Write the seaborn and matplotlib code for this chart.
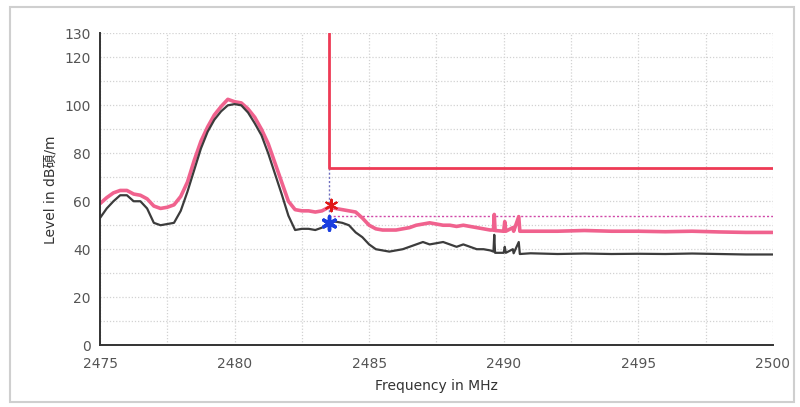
import numpy as np
import pandas as pd
import matplotlib
matplotlib.use("Agg")
import matplotlib.pyplot as plt
import seaborn as sns
from matplotlib.patches import Rectangle

# ---------------- data ----------------
avg_freq = [2475.0, 2475.25, 2475.5, 2475.75, 2476.0, 2476.25, 2476.5, 2476.75,
            2477.0, 2477.25, 2477.5, 2477.75, 2478.0, 2478.25, 2478.5, 2478.75,
            2479.0, 2479.25, 2479.5, 2479.75, 2480.0, 2480.25, 2480.5, 2480.75,
            2481.0, 2481.25, 2481.5, 2481.75, 2482.0, 2482.25, 2482.5, 2482.75,
            2483.0, 2483.25, 2483.5, 2483.75, 2484.0, 2484.25, 2484.5, 2484.75,
            2485.0, 2485.25, 2485.5, 2485.75, 2486.0, 2486.25, 2486.5, 2486.75,
            2487.0, 2487.25, 2487.5, 2487.75, 2488.0, 2488.25, 2488.5, 2488.75,
            2489.0, 2489.25, 2489.5, 2489.62, 2489.65, 2489.68, 2490.0, 2490.04,
            2490.08, 2490.34, 2490.37, 2490.56, 2490.6, 2491.0, 2492.0, 2493.0,
            2494.0, 2495.0, 2496.0, 2497.0, 2498.0, 2499.0, 2500.0]
avg_level = [53.0, 57.0, 60.0, 62.5, 62.5, 60.0, 60.0, 57.0,
             51.0, 50.0, 50.5, 51.0, 56.0, 64.0, 73.0, 82.0,
             89.0, 94.0, 97.5, 100.0, 100.5, 100.0, 97.0, 92.5,
             87.5, 80.0, 71.5, 63.0, 54.0, 48.0, 48.5, 48.5,
             48.0, 49.0, 51.0, 51.5, 51.0, 50.0, 47.0, 45.0,
             42.0, 40.0, 39.5, 39.0, 39.5, 40.0, 41.0, 42.0,
             43.0, 42.0, 42.5, 43.0, 42.0, 41.0, 42.0, 41.0,
             40.0, 40.0, 39.5, 39.0, 46.0, 38.5, 38.5, 41.0,
             38.5, 40.0, 38.3, 43.0, 38.0, 38.3, 38.0, 38.2,
             38.0, 38.1, 38.0, 38.2, 38.0, 37.8, 37.8]

peak_freq = avg_freq
peak_level = [59.0, 61.5, 63.5, 64.5, 64.5, 63.0, 62.5, 61.0,
              58.0, 57.0, 57.5, 58.5, 62.0, 68.0, 77.0, 85.0,
              91.0, 96.0, 99.5, 102.5, 101.5, 101.0, 98.5, 95.0,
              90.0, 84.0, 76.0, 68.0, 60.0, 56.5, 56.0, 56.0,
              55.5, 56.0, 57.5, 57.0, 56.5, 56.0, 55.5, 53.0,
              50.0, 48.5, 48.0, 48.0, 48.0, 48.5, 49.0, 50.0,
              50.5, 51.0, 50.5, 50.0, 50.0, 49.5, 50.0, 49.5,
              49.0, 48.5, 48.0, 48.0, 54.5, 47.8, 47.5, 51.5,
              47.5, 49.0, 47.5, 53.6, 47.5, 47.5, 47.5, 47.8,
              47.5, 47.5, 47.3, 47.5, 47.2, 47.0, 47.0]

limit_freq = [2483.5, 2483.5, 2500.0]
limit_level = [130.0, 74.0, 74.0]

margin_freq = [2483.5, 2500.0]
margin_level = [54.0, 54.0]

marker_line_freq = [2483.5, 2483.5]
marker_line_level = [74.0, 50.0]

peak_marker_freq = [2483.6]
peak_marker_level = [58.5]
avg_marker_freq = [2483.5]
avg_marker_level = [51.0]

x_ticks = [2475, 2480, 2485, 2490, 2495, 2500]
y_ticks = [0, 20, 40, 60, 80, 100, 120, 130]

# ---------------- style ----------------
sns.set_theme(style="white")
plt.rcParams["font.family"] = ["DejaVu Sans", "Noto Sans CJK SC"]

fig = plt.figure(figsize=(8.0, 4.07), dpi=100)
fig.patch.set_facecolor("white")
ax = fig.add_axes([0.125, 0.152, 0.841, 0.766])

df_peak = pd.DataFrame({"f": peak_freq, "l": peak_level})
df_avg = pd.DataFrame({"f": avg_freq, "l": avg_level})
df_lim = pd.DataFrame({"f": limit_freq, "l": limit_level})
df_mar = pd.DataFrame({"f": margin_freq, "l": margin_level})
df_mline = pd.DataFrame({"f": marker_line_freq, "l": marker_line_level})

kw = dict(sort=False, estimator=None, errorbar=None)
sns.lineplot(data=df_mar, x="f", y="l", ax=ax, color="#d048a8", lw=1.0,
             linestyle=(0, (1.5, 1.5)), **kw)
sns.lineplot(data=df_mline, x="f", y="l", ax=ax, color="#7070c0", lw=1.0,
             linestyle=(0, (1.5, 1.5)), **kw)
sns.lineplot(data=df_peak, x="f", y="l", ax=ax, color="#f0628e", lw=2.6, **kw)
sns.lineplot(data=df_avg, x="f", y="l", ax=ax, color="#3c3c3c", lw=1.6, **kw)
sns.lineplot(data=df_lim, x="f", y="l", ax=ax, color="#ee3a55", lw=2.0, **kw)

sns.scatterplot(x=peak_marker_freq, y=peak_marker_level, ax=ax, marker=(6, 2, 0),
                s=70, color="#e01818", edgecolor="#e01818", linewidth=1.5, zorder=5)
sns.scatterplot(x=avg_marker_freq, y=avg_marker_level, ax=ax, marker=(6, 2, 0),
                s=90, color="#1a3ee0", edgecolor="#1a3ee0", linewidth=2.5, zorder=5)

ax.set_xlim(2475, 2500)
ax.set_ylim(0, 130)

ax.set_xticks(x_ticks)
ax.set_xticks(np.arange(2475, 2500.1, 2.5), minor=True)
ax.set_yticks(y_ticks)
ax.set_yticks(np.arange(0, 131, 10), minor=True)
ax.set_xticklabels([str(t) for t in x_ticks])
ax.set_yticklabels([str(t) for t in y_ticks])

ax.tick_params(axis="both", which="both", direction="inout", length=9, width=1.0,
               color="#333333", labelsize=10, labelcolor="#555555")
ax.tick_params(axis="x", which="both", pad=4)
ax.tick_params(axis="y", which="both", pad=2)

ax.grid(True, which="both", color="#d2d2d2", linestyle=(0, (1, 1.5)), lw=0.9)
ax.set_axisbelow(True)

for s in ["top", "right"]:
    ax.spines[s].set_visible(False)
for s in ["left", "bottom"]:
    ax.spines[s].set_color("#333333")
    ax.spines[s].set_linewidth(1.4)

ax.set_xlabel("Frequency in MHz", fontsize=10, color="#333333", labelpad=6)
ax.set_ylabel("Level in dB碩/m", fontsize=10, color="#333333", labelpad=5)

# figure frame
fig.patches.append(Rectangle((0.0125, 0.012), 0.98, 0.97, transform=fig.transFigure,
                             fill=False, edgecolor="#cfcfcf", lw=1.5))

fig.savefig("out.png", dpi=100, facecolor="white")
